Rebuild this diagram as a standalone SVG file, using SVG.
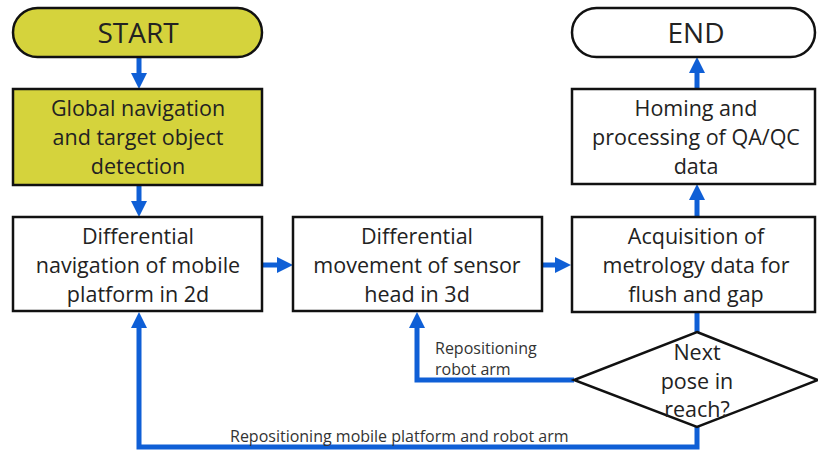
<svg xmlns="http://www.w3.org/2000/svg" width="818" height="452" viewBox="0 0 818 452">
<style>
.box{stroke:#111;stroke-width:2.5}
.y{fill:#d5d33c}
.w{fill:#fff}
.t{font-family:"Open Sans","Noto Sans",sans-serif;font-size:21.5px;fill:#222;text-anchor:middle}
.big{font-size:28px}
.lbl{font-family:"Open Sans","Noto Sans",sans-serif;font-size:16px;fill:#333}
.c{fill:none;stroke:#0f5fd6;stroke-width:5}
</style>
<defs>
<marker id="ah" markerUnits="userSpaceOnUse" markerWidth="18" markerHeight="18" refX="6" refY="9" orient="auto">
<path d="M0,1 L16,9 L0,17 z" fill="#0f5fd6"/>
</marker>
</defs>
<rect width="818" height="452" fill="#fff"/>
<g id="connectors">
<path class="c" d="M139,58 L139,79" marker-end="url(#ah)"/>
<path class="c" d="M139,185 L139,207" marker-end="url(#ah)"/>
<path class="c" d="M262,265 L283,265" marker-end="url(#ah)"/>
<path class="c" d="M542,265 L561,265" marker-end="url(#ah)"/>
<path class="c" d="M697,217 L697,194" marker-end="url(#ah)"/>
<path class="c" d="M697,89 L697,67" marker-end="url(#ah)"/>
<path class="c" d="M697,312 L697,333"/>
<path class="c" d="M574,380 L417,380 L417,322" marker-end="url(#ah)"/>
<path class="c" d="M697,426 L697,447 L139,447 L139,322" marker-end="url(#ah)"/>
<text class="lbl" x="435" y="354">Repositioning</text>
<text class="lbl" x="435" y="375">robot arm</text>
<text class="lbl" x="230" y="442">Repositioning mobile platform and robot arm</text>
</g>
<g id="start">
<rect class="box y" x="13" y="8" width="249" height="49" rx="24.5"/>
<text class="t big" x="138" y="43">START</text>
</g>
<g id="global">
<rect class="box y" x="13" y="89" width="249" height="96"/>
<text class="t" x="138" y="116">Global navigation</text>
<text class="t" x="138" y="145">and target object</text>
<text class="t" x="138" y="174">detection</text>
</g>
<g id="diffnav">
<rect class="box w" x="13" y="217" width="249" height="94"/>
<text class="t" x="138" y="244">Differential</text>
<text class="t" x="138" y="273">navigation of mobile</text>
<text class="t" x="138" y="302">platform in 2d</text>
</g>
<g id="diffmove">
<rect class="box w" x="293" y="217" width="249" height="94"/>
<text class="t" x="417" y="244">Differential</text>
<text class="t" x="417" y="273">movement of sensor</text>
<text class="t" x="417" y="302">head in 3d</text>
</g>
<g id="acq">
<rect class="box w" x="572" y="217" width="243" height="95"/>
<text class="t" x="696" y="244">Acquisition of</text>
<text class="t" x="696" y="273">metrology data for</text>
<text class="t" x="696" y="302">flush and gap</text>
</g>
<g id="homing">
<rect class="box w" x="572" y="89" width="243" height="95"/>
<text class="t" x="696" y="116">Homing and</text>
<text class="t" x="696" y="145">processing of QA/QC</text>
<text class="t" x="696" y="174">data</text>
</g>
<g id="end">
<rect class="box w" x="572" y="8" width="243" height="49" rx="24.5"/>
<text class="t big" x="696" y="43">END</text>
</g>
<g id="decision">
<polygon class="box" fill="none" points="697,332 818,380 697,427 574,380"/>
<text class="t" x="697" y="360">Next</text>
<text class="t" x="697" y="389">pose in</text>
<text class="t" x="697" y="417">reach?</text>
</g>
</svg>
